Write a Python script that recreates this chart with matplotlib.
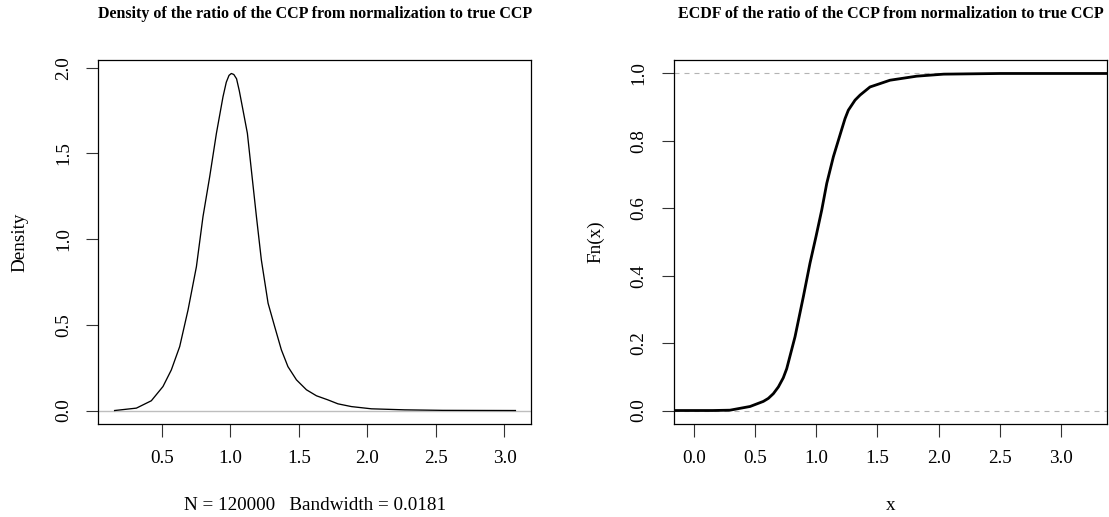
import matplotlib
matplotlib.use("Agg")
import matplotlib.pyplot as plt

plt.rcParams["font.family"] = ["Liberation Serif", "DejaVu Serif"]

# density curve
dens_x = [0.155, 0.314, 0.423, 0.508, 0.569, 0.630, 0.691, 0.752, 0.800, 0.849,
          0.898, 0.946, 0.970, 0.990, 1.007, 1.025, 1.045, 1.065, 1.092, 1.124,
          1.153, 1.190, 1.226, 1.275, 1.323, 1.372, 1.420, 1.482, 1.555, 1.628,
          1.712, 1.785, 1.883, 2.029, 2.272, 2.55, 2.80, 3.08]
dens_y = [0.0, 0.014, 0.057, 0.140, 0.237, 0.373, 0.587, 0.839, 1.131, 1.364,
          1.617, 1.830, 1.915, 1.955, 1.966, 1.960, 1.935, 1.865, 1.752, 1.617,
          1.403, 1.131, 0.878, 0.626, 0.490, 0.354, 0.256, 0.179, 0.121, 0.086,
          0.062, 0.039, 0.023, 0.010, 0.004, 0.001, 0.0005, 0.0]

# ECDF
ecdf_x = [-0.161, 0.155, 0.296, 0.46, 0.568, 0.609, 0.65, 0.691, 0.731, 0.759,
          0.827, 0.895, 0.949, 0.998, 1.045, 1.086, 1.140, 1.202, 1.235, 1.262,
          1.317, 1.358, 1.439, 1.521, 1.602, 1.82, 2.04, 2.5, 3.08, 3.376]
ecdf_y = [0.0, 0.0, 0.001, 0.012, 0.027, 0.036, 0.050, 0.070, 0.097, 0.124,
          0.219, 0.338, 0.437, 0.516, 0.595, 0.674, 0.753, 0.827, 0.866, 0.891,
          0.921, 0.936, 0.960, 0.970, 0.980, 0.992, 0.998, 1.0, 1.0, 1.0]

x_ticks_left = [0.5, 1.0, 1.5, 2.0, 2.5, 3.0]
y_ticks_left = [0.0, 0.5, 1.0, 1.5, 2.0]
x_ticks_right = [0.0, 0.5, 1.0, 1.5, 2.0, 2.5, 3.0]
y_ticks_right = [0.0, 0.2, 0.4, 0.6, 0.8, 1.0]

W, H = 1109, 517
fig = plt.figure(figsize=(W / 100, H / 100), dpi=100)

ax1 = fig.add_axes([98.3 / W, 1 - 424.0 / H, 433 / W, 364.0 / H])
ax2 = fig.add_axes([674 / W, 1 - 424.0 / H, 433.3 / W, 364.0 / H])

ax1.axhline(0, color="#BEBEBE", lw=1.0, zorder=1)
ax1.plot(dens_x, dens_y, color="black", lw=0.95, zorder=2)
ax1.set_xlim(0.036, 3.196)
ax1.set_ylim(-0.0786, 2.0446)
ax1.set_xticks(x_ticks_left)
ax1.set_yticks(y_ticks_left)

ax2.axhline(0, color="#B3B3B3", lw=0.8, ls=(0, (4.5, 4.5)), zorder=1)
ax2.axhline(1, color="#B3B3B3", lw=0.8, ls=(0, (4.5, 4.5)), zorder=1)
ax2.plot(ecdf_x, ecdf_y, color="black", lw=2.0, zorder=2, solid_capstyle="butt")
ax2.set_xlim(-0.161, 3.376)
ax2.set_ylim(-0.04, 1.04)
ax2.set_xticks(x_ticks_right)
ax2.set_yticks(y_ticks_right)

for ax in (ax1, ax2):
    for s in ax.spines.values():
        s.set_linewidth(0.9)
        s.set_color("black")
    ax.tick_params(direction="out", length=9, width=0.8, color="#333333",
                   labelsize=13.8, pad=10)
    ax.xaxis.set_major_formatter(matplotlib.ticker.FormatStrFormatter("%.1f"))
    ax.yaxis.set_major_formatter(matplotlib.ticker.FormatStrFormatter("%.1f"))
    for lab in ax.get_yticklabels():
        lab.set_rotation(90)
        lab.set_va("center")

fig.text(315 / W, 1 - 13.5 / H,
         "Density of the ratio of the CCP from normalization to true CCP",
         ha="center", va="center", fontsize=11.5, fontweight="bold")
fig.text(890.7 / W, 1 - 13.5 / H,
         "ECDF of the ratio of the CCP from normalization to true CCP",
         ha="center", va="center", fontsize=11.5, fontweight="bold")

fig.text(314.8 / W, 1 - 506 / H, "N = 120000   Bandwidth = 0.0181",
         ha="center", va="center", fontsize=13.8)
fig.text(890.7 / W, 1 - 506 / H, "x", ha="center", va="center", fontsize=13.8)
fig.text(19.5 / W, 1 - 242 / H, "Density", ha="center", va="center",
         rotation=90, fontsize=13.8)
fig.text(596 / W, 1 - 242 / H, "Fn(x)", ha="center", va="center",
         rotation=90, fontsize=13.8)

fig.savefig("out.png", dpi=100)
